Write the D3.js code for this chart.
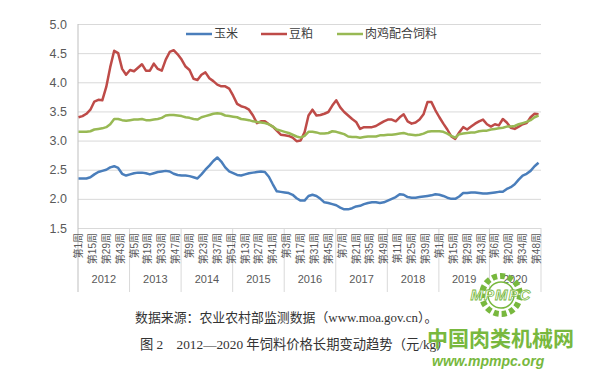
<!DOCTYPE html>
<html>
<head>
<meta charset="utf-8">
<script src="https://cdn.jsdelivr.net/npm/d3@7"></script>
<style>
  body { margin: 0; background: #fff; }
  svg { display: block; }
</style>
</head>
<body>
<svg id="chart" width="600" height="378"></svg>
<script>
// x axis: weekly categories, labelled every 14 weeks
const years = ["2012", "2013", "2014", "2015", "2016", "2017", "2018", "2019", "2020"];
const weeksPerYear = [52, 52, 52, 52, 52, 52, 52, 51, 52];
const labelStep = 14;
const yTicks = [1.5, 2.0, 2.5, 3.0, 3.5, 4.0, 4.5, 5.0];

// series values, one reading every 4 weeks starting at 2012 week 1
const sampleStep = 4;
const seriesNames = ["玉米", "豆粕", "肉鸡配合饲料"];
const corn = [
  2.35, 2.35, 2.35, 2.37, 2.42, 2.46, 2.48, 2.50, 2.54, 2.56,
  2.53, 2.43, 2.40, 2.42, 2.44, 2.45, 2.45, 2.44, 2.42, 2.44,
  2.46, 2.47, 2.48, 2.47, 2.43, 2.41, 2.40, 2.40, 2.39, 2.37,
  2.35, 2.42, 2.50, 2.57, 2.65, 2.71, 2.64, 2.54, 2.47, 2.44,
  2.41, 2.40, 2.42, 2.44, 2.45, 2.46, 2.47, 2.46, 2.38, 2.25,
  2.13, 2.12, 2.11, 2.10, 2.07, 2.01, 1.97, 1.97, 2.05, 2.07,
  2.05, 2.00, 1.94, 1.93, 1.91, 1.89, 1.85, 1.82, 1.82, 1.84,
  1.87, 1.88, 1.91, 1.93, 1.94, 1.94, 1.93, 1.94, 1.97, 2.00,
  2.03, 2.08, 2.07, 2.03, 2.02, 2.02, 2.03, 2.04, 2.05, 2.06,
  2.08, 2.07, 2.05, 2.02, 2.00, 2.00, 2.04, 2.10, 2.10, 2.11,
  2.11, 2.10, 2.09, 2.09, 2.10, 2.11, 2.12, 2.12, 2.17, 2.20,
  2.25, 2.33, 2.40, 2.43, 2.48, 2.56, 2.62
];
const soymeal = [
  3.40, 3.42, 3.46, 3.53, 3.67, 3.70, 3.69, 3.92, 4.26, 4.54,
  4.50, 4.23, 4.13, 4.21, 4.19, 4.25, 4.31, 4.20, 4.20, 4.32,
  4.23, 4.20, 4.39, 4.52, 4.55, 4.48, 4.39, 4.27, 4.21, 4.06,
  4.04, 4.13, 4.17, 4.07, 4.02, 3.96, 3.93, 3.93, 3.89, 3.77,
  3.63, 3.59, 3.57, 3.53, 3.43, 3.30, 3.33, 3.33, 3.28, 3.24,
  3.17, 3.10, 3.09, 3.08, 3.05, 2.99, 3.00, 3.14, 3.43, 3.53,
  3.43, 3.44, 3.46, 3.49, 3.60, 3.69, 3.57, 3.49, 3.43, 3.37,
  3.32, 3.20, 3.23, 3.23, 3.23, 3.25, 3.29, 3.33, 3.36, 3.36,
  3.33, 3.40, 3.45, 3.33, 3.29, 3.31, 3.36, 3.45, 3.66, 3.66,
  3.52, 3.40, 3.29, 3.19, 3.07, 3.03, 3.14, 3.23, 3.19, 3.24,
  3.29, 3.33, 3.36, 3.28, 3.24, 3.28, 3.26, 3.37, 3.31, 3.22,
  3.20, 3.24, 3.28, 3.30, 3.40, 3.46, 3.45
];
const broilerFeed = [
  3.15, 3.15, 3.15, 3.16, 3.19, 3.20, 3.21, 3.23, 3.28, 3.37,
  3.37, 3.35, 3.34, 3.35, 3.36, 3.36, 3.37, 3.35, 3.35, 3.36,
  3.37, 3.39, 3.43, 3.44, 3.44, 3.43, 3.42, 3.40, 3.39, 3.37,
  3.36, 3.40, 3.42, 3.44, 3.46, 3.47, 3.46, 3.43, 3.42, 3.41,
  3.40, 3.37, 3.36, 3.35, 3.33, 3.32, 3.31, 3.30, 3.28, 3.24,
  3.19, 3.17, 3.15, 3.13, 3.10, 3.07, 3.05, 3.08, 3.15, 3.15,
  3.14, 3.12, 3.12, 3.13, 3.16, 3.15, 3.13, 3.11, 3.07, 3.06,
  3.06, 3.05, 3.06, 3.07, 3.07, 3.07, 3.09, 3.09, 3.10, 3.10,
  3.11, 3.12, 3.13, 3.11, 3.10, 3.09, 3.10, 3.12, 3.15, 3.16,
  3.16, 3.16, 3.15, 3.12, 3.08, 3.05, 3.11, 3.12, 3.13, 3.14,
  3.14, 3.16, 3.17, 3.17, 3.19, 3.20, 3.21, 3.22, 3.24, 3.24,
  3.25, 3.28, 3.30, 3.32, 3.35, 3.40, 3.43
];

const svg = d3.select("#chart");
const margin = { top: 24, right: 59, bottom: 150, left: 78 };
const width = 600;
const height = 378;
const plotRight = width - margin.right;
const plotBottom = height - margin.bottom;
const gridColor = "#d9d9d9";
const textColor = "#595959";
const colors = ["#4a7ebb", "#be4b48", "#98b954"];

svg.append("rect").attr("width", width).attr("height", height).attr("fill", "#fff");

// build the weekly categories
const weeks = [];
years.forEach((yr, i) => {
  for (let w = 1; w <= weeksPerYear[i]; w++) {
    weeks.push({ year: yr, week: w });
  }
});

const x = d3
  .scaleBand()
  .domain(d3.range(weeks.length))
  .range([margin.left, plotRight]);

const y = d3
  .scaleLinear()
  .domain([1.5, 5])
  .range([plotBottom, margin.top]);

// y axis + gridlines
svg
  .append("g")
  .attr("transform", `translate(${margin.left},0)`)
  .call(
    d3
      .axisLeft(y)
      .tickValues(yTicks)
      .tickFormat(d3.format(".1f"))
      .tickSize(-(plotRight - margin.left))
      .tickPadding(11)
  )
  .call(g => g.select(".domain").remove())
  .call(g => g.selectAll(".tick line").attr("stroke", gridColor))
  .call(g =>
    g
      .selectAll(".tick text")
      .attr("fill", textColor)
      .style("font", "12.5px 'Liberation Sans', Arial, sans-serif")
  );

// year separators below the axis
let start = 0;
const yearBounds = years.map((yr, i) => {
  const b = { year: yr, from: start, to: start + weeksPerYear[i] - 1 };
  start += weeksPerYear[i];
  return b;
});

svg
  .append("g")
  .selectAll("line")
  .data([0].concat(yearBounds.map(b => b.to + 1)))
  .join("line")
  .attr("x1", i => (i < weeks.length ? x(i) : plotRight))
  .attr("x2", i => (i < weeks.length ? x(i) : plotRight))
  .attr("y1", i => (i === 0 ? margin.top : plotBottom))
  .attr("y2", plotBottom + 64)
  .attr("stroke", i => (i === 0 ? "#bfbfbf" : gridColor));

// week labels
const labelIdx = d3.range(0, weeks.length, labelStep);
svg
  .append("g")
  .attr("transform", `translate(0,${plotBottom})`)
  .call(
    d3
      .axisBottom(x)
      .tickValues(labelIdx)
      .tickSize(0)
      .tickFormat(i => `第${weeks[i].week}周`)
  )
  .call(g => g.select(".domain").remove())
  .call(g =>
    g
      .selectAll(".tick text")
      .attr("transform", "rotate(-90)")
      .attr("text-anchor", "end")
      .attr("x", -5)
      .attr("y", 0)
      .attr("dy", "0.35em")
      .attr("fill", textColor)
      .style("font", "10px 'Liberation Sans', 'Noto Sans CJK SC', sans-serif")
  );

// year labels
svg
  .append("g")
  .selectAll("text")
  .data(yearBounds)
  .join("text")
  .attr("x", b => (x(b.from) + x(b.to) + x.bandwidth()) / 2)
  .attr("y", plotBottom + 55)
  .attr("text-anchor", "middle")
  .attr("fill", textColor)
  .style("font", "11px 'Liberation Sans', Arial, sans-serif")
  .text(b => b.year);

// lines
const line = d3
  .line()
  .x(d => x(d[0]) + x.bandwidth() / 2)
  .y(d => y(d[1]));

[corn, soymeal, broilerFeed].forEach((values, s) => {
  svg
    .append("path")
    .datum(values.map((v, k) => [k * sampleStep, v]))
    .attr("fill", "none")
    .attr("stroke", colors[s])
    .attr("stroke-width", 2.5)
    .attr("stroke-linejoin", "round")
    .attr("d", line);
});

// legend
const legendX = [186, 261, 337];
const legend = svg
  .append("g")
  .selectAll("g")
  .data(seriesNames)
  .join("g")
  .attr("transform", (d, i) => `translate(${legendX[i]},34)`);

legend
  .append("line")
  .attr("x2", 26)
  .attr("stroke", (d, i) => colors[i])
  .attr("stroke-width", 2.5);

legend
  .append("text")
  .attr("x", 28)
  .attr("dy", "0.35em")
  .attr("fill", "#404040")
  .style("font", "12px 'Noto Sans CJK SC', sans-serif")
  .text(d => d);

// captions
svg
  .append("text")
  .attr("x", 135)
  .attr("y", 322)
  .attr("fill", "#333")
  .style("font", "12.9px 'Liberation Serif', 'Noto Sans CJK SC', serif")
  .text("数据来源：农业农村部监测数据（www.moa.gov.cn）。");

svg
  .append("text")
  .attr("x", 140)
  .attr("y", 349)
  .attr("fill", "#333")
  .style("font", "13.3px 'Liberation Serif', 'Noto Sans CJK SC', serif")
  .text("图 2　2012—2020 年饲料价格长期变动趋势（元/kg）");

// watermark
const wmColor = "#78b83e";
const wm = svg.append("g").attr("fill", wmColor);
const gear = wm.append("g").attr("transform", "translate(501,295)");
gear
  .append("circle")
  .attr("r", 19)
  .attr("fill", "none")
  .attr("stroke", wmColor)
  .attr("stroke-width", 6)
  .attr("stroke-dasharray", "5 3");
gear
  .append("circle")
  .attr("r", 13)
  .attr("fill", "none")
  .attr("stroke", wmColor)
  .attr("stroke-width", 1.5);
gear
  .append("text")
  .attr("text-anchor", "middle")
  .attr("y", 5)
  .attr("fill", "#fff")
  .attr("stroke", wmColor)
  .attr("stroke-width", 0.8)
  .attr("letter-spacing", 1)
  .style("font", "italic bold 15px 'Liberation Sans', sans-serif")
  .text("MPMPC");

wm.append("text")
  .attr("x", 427)
  .attr("y", 346)
  .style("font", "bold 21px 'Noto Sans CJK SC', sans-serif")
  .text("中国肉类机械网");

wm.append("text")
  .attr("x", 432)
  .attr("y", 366)
  .style("font", "italic bold 14px 'Liberation Sans', sans-serif")
  .text("www.mpmpc.org");
</script>
</body>
</html>
